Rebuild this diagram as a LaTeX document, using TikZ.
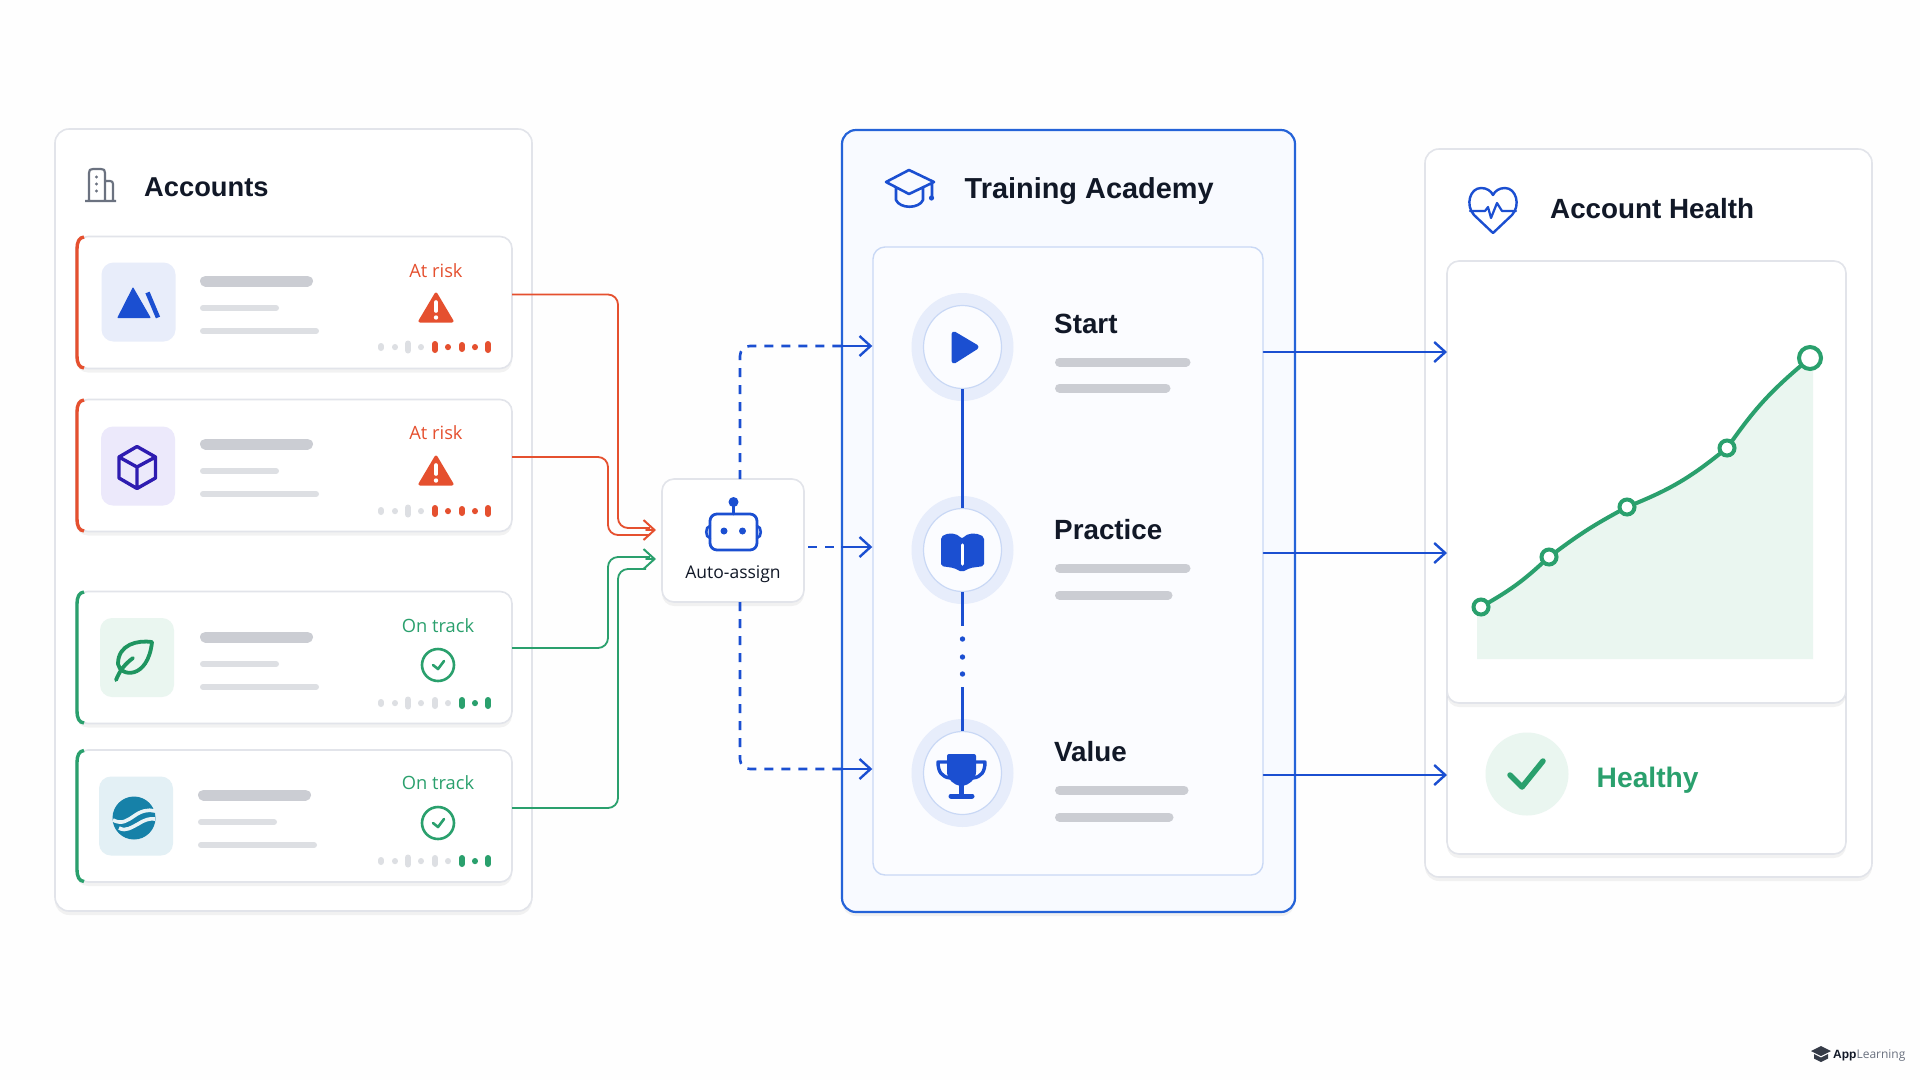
\documentclass[tikz,border=0pt]{standalone}
\usepackage{xcolor}
\usepackage{fontspec}
\usepackage{tikz}
\usetikzlibrary{arrows.meta,positioning,shapes.geometric,shadows}
\setmainfont{Open Sans}
\newfontfamily\headfont{Liberation Sans Bold}
\definecolor{hubInk}{HTML}{111827}
\definecolor{hubLine}{HTML}{E2E4EA}
\definecolor{hubBar}{HTML}{CBCDD3}
\definecolor{hubBarSoft}{HTML}{DDDFE3}
\definecolor{hubSlate}{HTML}{6B7280}
\definecolor{hubBlue}{HTML}{1B4FD1}
\definecolor{hubBorder}{HTML}{2563D8}
\definecolor{hubSky}{HTML}{F8FAFF}
\definecolor{hubPale}{HTML}{C9D8F5}
\definecolor{hubHalo}{HTML}{E7EDFB}
\definecolor{hubRed}{HTML}{E5502F}
\definecolor{hubGreen}{HTML}{2AA06D}
\definecolor{hubLeaf}{HTML}{1F9560}
\definecolor{hubMint}{HTML}{EAF6F0}
\definecolor{hubTeal}{HTML}{1681A8}
\definecolor{hubTealBg}{HTML}{E3F0F5}
\definecolor{hubCube}{HTML}{2E1CB0}
\definecolor{hubCubeBg}{HTML}{ECE9FB}
\tikzset{
  panelbox/.style={rectangle,draw=hubLine,fill=white,line width=1.6pt,rounded corners=14pt,inner sep=0pt,outer sep=0pt,
    drop shadow={shadow xshift=0pt,shadow yshift=-4pt,opacity=.05,fill=black}},
  cardbox/.style={panelbox,rounded corners=12pt,minimum width=436pt,minimum height=132pt},
  tilebox/.style={rectangle,rounded corners=12pt,inner sep=0pt,minimum width=74pt,minimum height=79pt},
  titletext/.style={anchor=base west,inner sep=0pt,text=hubInk},
  steptext/.style={anchor=base west,inner sep=0pt,text=hubInk,font=\fontsize{27.8}{34}\selectfont\headfont},
  statustext/.style={inner sep=0pt,font=\fontsize{18.3}{22}\selectfont},
  stephalo/.style={ellipse,fill=hubHalo,inner sep=0pt,minimum width=102pt,minimum height=108pt},
  stepring/.style={ellipse,draw=hubPale,fill=hubSky!60!white,line width=1.2pt,inner sep=0pt,minimum width=78pt,minimum height=83pt},
  chartdot/.style={circle,draw=hubGreen,fill=white,line width=4pt,inner sep=0pt,minimum size=15pt},
  barfat/.style={hubBar,line width=11pt,line cap=round},
  barthin/.style={hubBarSoft,line width=6pt,line cap=round},
  barstep/.style={hubBar,line width=9pt,line cap=round},
  sparkoff/.style={hubBarSoft,line width=6pt,line cap=round},
  sparkon/.style={line width=6pt,line cap=round},
  tiparrow/.style={-{Straight Barb[length=11pt,width=20pt]},line cap=round},
  riskline/.style={hubRed,line width=1.8pt,rounded corners=10pt},
  goodline/.style={hubGreen,line width=1.8pt,rounded corners=10pt},
  flowdash/.style={hubBlue,line width=2.6pt,rounded corners=10pt,dash pattern=on 9pt off 8pt},
  flowarrow/.style={hubBlue,line width=2.4pt,tiparrow},
  iconblue/.style={hubBlue,line width=2.6pt,line join=round,line cap=round},
  healthline/.style={hubGreen,line width=4pt,line cap=round},
  cardbars/.pic={
    \draw[barfat] (5.5,0) -- (107.5,0);
    \draw[barthin] (3,27) -- (76,27);
    \draw[barthin] (3,50) -- (116,50);
  },
  warnsign/.pic={
    \fill[hubRed,draw=hubRed,line width=3pt,line join=round] (0,2) -- (16,29) -- (-16,29) -- cycle;
    \draw[white,line width=3.6pt,line cap=round] (0,10) -- (0,19);
    \fill[white] (0,25.5) circle[radius=2.2];
  },
  checkbadge/.pic={
    \draw[hubGreen,line width=2.6pt] (0,0) circle[radius=16];
    \draw[hubGreen,line width=2.6pt,line cap=round,line join=round] (-5,0) -- (0,4) -- (6,-4);
  },
  riskspark/.pic={
    \draw[sparkoff] (0,-1) -- (0,1) (14,0) -- (14,.2) (27,-3.5) -- (27,3.5) (40,0) -- (40,.2);
    \draw[sparkon,hubRed] (54,-3) -- (54,3) (67,0) -- (67,.2) (81,-2) -- (81,2) (94,0) -- (94,.2) (107,-3) -- (107,3);
  },
  goodspark/.pic={
    \draw[sparkoff] (0,-1) -- (0,1) (14,0) -- (14,.2) (27,-3.5) -- (27,3.5) (40,0) -- (40,.2) (54,-3) -- (54,3) (67,0) -- (67,.2);
    \draw[sparkon,hubGreen] (81,-3) -- (81,3) (94,0) -- (94,.2) (107,-3) -- (107,3);
  }
}
\begin{document}
\begin{tikzpicture}[x=1pt,y=-1pt]
  \useasboundingbox (0,0) rectangle (1920,1080);
  \fill[white!99.5!black] (0,0) rectangle (1920,1080);

  \node[panelbox,minimum width=477pt,minimum height=782pt] (accounts) at (293.5,520) {};
  \draw[hubSlate,line width=2.2pt,line join=round] (85,201) -- (116,201) (89,201) -- (89,173) .. controls (89,170) and (90,169) .. (93,169) -- (101,169) .. controls (104,169) and (105,170) .. (105,173) -- (105,201) (105,181) -- (110,181) .. controls (112,181) and (113,182) .. (113,184) -- (113,201);
  \fill[hubSlate] (96.5,177) circle[radius=1.6] (96.5,184) circle[radius=1.6] (96.5,191) circle[radius=1.6];
  \node[titletext,font=\fontsize{27.3}{34}\selectfont\headfont] (accountstitle) at (144,196) {Accounts};

  \node[cardbox] (cardone) at (294,302.5) {};
  \node[cardbox, below=31pt of cardone] (cardtwo) {};
  \node[cardbox, below=60pt of cardtwo] (cardthree) {};
  \node[cardbox, below=26.5pt of cardthree] (cardfour) {};
  \draw[hubRed,line width=3.4pt] (84,237) .. controls (79,237.5) and (77,242) .. (77,249) -- (77,356) .. controls (77,363) and (79,367.5) .. (84,368);
  \draw[hubRed,line width=3.4pt] (84,400) .. controls (79,400.5) and (77,405) .. (77,412) -- (77,519) .. controls (77,526) and (79,530.5) .. (84,531);
  \draw[hubGreen,line width=3.4pt] (84,592) .. controls (79,592.5) and (77,597) .. (77,604) -- (77,711) .. controls (77,718) and (79,722.5) .. (84,723);
  \draw[hubGreen,line width=3.4pt] (84,750.5) .. controls (79,751) and (77,755.5) .. (77,762.5) -- (77,869.5) .. controls (77,876.5) and (79,881) .. (84,881.5);

  \node[tilebox,fill=hubBlue!10] (tileone) at (138.5,302) {};
  \fill[hubBlue,draw=hubBlue,line width=1pt,line join=round] (133,288) -- (150,317.5) -- (118,317.5) -- cycle;
  \draw[hubBlue,line width=4.5pt] (147.5,292.5) -- (158,317.5);
  \pic at (200,281) {cardbars};
  \node[statustext,text=hubRed] (statusone) at (436,271) {At risk};
  \pic at (436,292) {warnsign};
  \pic at (381,347) {riskspark};

  \node[tilebox,fill=hubCubeBg] (tiletwo) at (138,466) {};
  \draw[hubCube,line width=3.4pt,line join=round] (137,446.5) -- (155.5,457) -- (155.5,478) -- (137,488.5) -- (119,478) -- (119,457) -- cycle (119,457) -- (137,467) -- (155.5,457) (137,467) -- (137,488.5);
  \pic at (200,444) {cardbars};
  \node[statustext,text=hubRed] (statustwo) at (436,433) {At risk};
  \pic at (436,455) {warnsign};
  \pic at (381,511) {riskspark};

  \node[tilebox,fill=hubMint] (tilethree) at (137,657.5) {};
  \draw[hubLeaf,line width=3.8pt,line cap=round,line join=round] (152,642) .. controls (138,640) and (118,644) .. (118,664) .. controls (120,677) and (148,680) .. (152,642) (116,680) .. controls (120,670) and (125,664) .. (133,658);
  \pic at (200,637) {cardbars};
  \node[statustext,text=hubGreen] (statusthree) at (438,626) {On track};
  \pic at (438,665) {checkbadge};
  \pic at (381,703) {goodspark};

  \node[tilebox,fill=hubTealBg] (tilefour) at (136,816) {};
  \fill[hubTeal] (134,818) circle[radius=21.5];
  \draw[white!90!hubTeal,line width=3.6pt] (113,820) .. controls (122,825) and (128,820) .. (134,816) .. controls (141,811) and (148,809) .. (155,811);
  \draw[white!90!hubTeal,line width=3.6pt] (119,828) .. controls (126,832) and (132,827) .. (138,824) .. controls (144,820) and (150,818) .. (155,819);
  \pic at (198,795) {cardbars};
  \node[statustext,text=hubGreen] (statusfour) at (438,783) {On track};
  \pic at (438,823) {checkbadge};
  \pic at (381,861) {goodspark};

  \node[panelbox,minimum width=142pt,minimum height=123pt,rounded corners=12pt] (assign) at (733,540.5) {};
  \node[inner sep=0pt,text=hubInk,font=\fontsize{17.5}{22}\selectfont] (assignlabel) at (733,574) {Auto-assign};
  \draw[iconblue,line width=2.8pt,rounded corners=7pt] (710,514) rectangle (757,550);
  \draw[iconblue] (710,526) .. controls (705,526) and (705,538) .. (710,538) (757,526) .. controls (762,526) and (762,538) .. (757,538) (733.5,505) -- (733.5,514);
  \fill[hubBlue] (733.5,502) circle[radius=5] (724,531) circle[radius=3.5] (742.5,531) circle[radius=3.5];

  \node[panelbox,draw=hubBorder,fill=hubSky,line width=2.2pt,minimum width=453pt,minimum height=782pt] (academy) at (1068.5,521) {};
  \draw[iconblue] (909,170) -- (934,182) -- (909,194) -- (886,182) -- cycle (896,188) -- (896,200) .. controls (900,209) and (919,209) .. (923,200) -- (923,188) (932,183) -- (932,197);
  \fill[hubBlue] (931.5,198) circle[radius=2.6];
  \node[titletext,font=\fontsize{28.9}{36}\selectfont\headfont] (academytitle) at (964.5,198) {Training Academy};
  \node[rectangle,draw=hubPale,fill=hubSky!50!white,line width=1.4pt,rounded corners=12pt,inner sep=0pt,minimum width=390pt,minimum height=628pt] (learnpanel) at (1068,561) {};

  \node[stephalo] (halostart) at (962.5,347) {};
  \node[stepring] (stepstart) at (962.5,347) {};
  \fill[hubBlue,draw=hubBlue,line width=5pt,line join=round] (954,334) -- (976,347) -- (954,361) -- cycle;
  \node[steptext] (labelstart) at (1054,333) {Start};
  \draw[barstep] (1059.5,362) -- (1186,362);
  \draw[barstep] (1059.5,388) -- (1166,388);

  \node[stephalo] (halopractice) at (962.5,550) {};
  \node[stepring] (steppractice) at (962.5,550) {};
  \fill[hubBlue,rounded corners=2pt] (941,537) .. controls (948,532) and (957,533) .. (962,539) .. controls (967,533) and (976,532) .. (984,537) -- (984,566) -- (970,568) -- (962,572) -- (954,568) -- (941,566) -- cycle;
  \draw[white,line width=3.5pt,line cap=round] (962.5,545) -- (962.5,564);
  \node[steptext] (labelpractice) at (1054,539) {Practice};
  \draw[barstep] (1059.5,568) -- (1186,568);
  \draw[barstep] (1059.5,595) -- (1168,595);

  \node[stephalo] (halovalue) at (962.5,773) {};
  \node[stepring] (stepvalue) at (962.5,773) {};
  \fill[hubBlue,rounded corners=2pt] (947,754) -- (976,754) -- (976,770) .. controls (976,780) and (968,785) .. (961.5,786) .. controls (955,785) and (947,780) .. (947,770) -- cycle;
  \draw[iconblue,line width=3.4pt] (947,762) -- (938,762) .. controls (938,772) and (942,777) .. (950,778) (976,762) -- (985,762) .. controls (985,772) and (981,777) .. (973,778);
  \draw[hubBlue,line width=5pt] (961.5,784) -- (961.5,796);
  \draw[hubBlue,line width=5pt,line cap=round] (951,796) -- (972,796);
  \node[steptext] (labelvalue) at (1054,761) {Value};
  \draw[barstep] (1059.5,790) -- (1184,790);
  \draw[barstep] (1059.5,817) -- (1169,817);

  \draw[hubBlue,line width=3pt] (stepstart) -- (steppractice);
  \draw[hubBlue,line width=3pt] (steppractice) -- (962.5,626);
  \fill[hubBlue] (962.5,639) circle[radius=2.7] (962.5,657) circle[radius=2.7] (962.5,674) circle[radius=2.7];
  \draw[hubBlue,line width=3pt] (962.5,687) -- (stepvalue);

  \node[panelbox,minimum width=447pt,minimum height=728pt] (health) at (1648.5,513) {};
  \draw[iconblue,line width=2.4pt] (1493,233) -- (1474,215) .. controls (1465,205) and (1470,188) .. (1481,188) .. controls (1487,188) and (1491,191) .. (1493,195) .. controls (1495,191) and (1499,188) .. (1505,188) .. controls (1516,188) and (1521,205) .. (1512,215) -- cycle;
  \draw[iconblue,line width=2.2pt] (1470,211) -- (1485,211) -- (1488,207) -- (1491,218) -- (1497,203) -- (1502,211) -- (1516,211);
  \node[titletext,font=\fontsize{27.8}{34}\selectfont\headfont] (healthtitle) at (1550,218) {Account Health};
  \node[panelbox,rounded corners=12pt,minimum width=399pt,minimum height=180pt] (verdictcard) at (1646.5,764) {};
  \node[panelbox,rounded corners=12pt,minimum width=399pt,minimum height=442pt] (chartcard) at (1646.5,482) {};

  \coordinate (ptone) at (1481,607);
  \coordinate (pttwo) at (1549,557);
  \coordinate (ptthree) at (1627,507);
  \coordinate (ptfour) at (1727,448);
  \coordinate (ptfive) at (1810,358);
  \fill[hubMint] (1477,607) -- (ptone) to[bend right=6] (pttwo) to[bend left=4] (ptthree) to[bend right=8] (ptfour) to[bend left=7] (ptfive) -- (1813,362) -- (1813,659) -- (1477,659) -- cycle;
  \node[chartdot] (dotone) at (ptone) {};
  \node[chartdot] (dottwo) at (pttwo) {};
  \node[chartdot] (dotthree) at (ptthree) {};
  \node[chartdot] (dotfour) at (ptfour) {};
  \node[chartdot,minimum size=22pt] (dotfive) at (ptfive) {};
  \draw[healthline] (dotone) to[bend right=6] (dottwo);
  \draw[healthline] (dottwo) to[bend left=4] (dotthree);
  \draw[healthline] (dotthree) to[bend right=8] (dotfour);
  \draw[healthline] (dotfour) to[bend left=7] (dotfive);

  \node[circle,fill=hubMint,inner sep=0pt,minimum size=83pt] (healthybadge) at (1527,774) {};
  \draw[hubGreen,line width=5.5pt,line cap=round,line join=round] (1510,775) -- (1522,787) -- (1543,761);
  \node[inner sep=0pt,anchor=base west,text=hubGreen,font=\fontsize{28.2}{34}\selectfont\headfont] (healthytext) at (1596.5,787) {Healthy};

  \draw[riskline] ([yshift=8pt]cardone.east) -- (618,294.5) -- (618,528) -- (650,528);
  \draw[riskline] ([yshift=8.5pt]cardtwo.east) -- (608,457) -- (608,535) -- (650,535);
  \draw[hubRed,line width=2pt,tiparrow] ([xshift=-16pt,yshift=10.5pt]assign.west) -- ([xshift=-6pt,yshift=10.5pt]assign.west);
  \draw[goodline] ([yshift=9.5pt]cardthree.east) -- (608,648) -- (608,557) -- (650,557);
  \draw[goodline] ([yshift=8pt]cardfour.east) -- (618,808) -- (618,569) -- (646,569);
  \draw[hubGreen,line width=2pt,tiparrow] ([xshift=-16pt,yshift=-18.5pt]assign.west) -- ([xshift=-6pt,yshift=-18.5pt]assign.west);

  \draw[flowdash] ([xshift=7pt]assign.north) |- ([yshift=175pt]academy.west);
  \draw[flowarrow] ([yshift=175pt]academy.west) -- ([yshift=215pt]learnpanel.west);
  \draw[flowdash] ([xshift=4pt,yshift=-6.5pt]assign.east) -- ([yshift=-26pt]academy.west);
  \draw[flowarrow] ([yshift=-26pt]academy.west) -- ([yshift=14pt]learnpanel.west);
  \draw[flowdash] ([xshift=7pt]assign.south) |- ([yshift=-248pt]academy.west);
  \draw[flowarrow] ([yshift=-248pt]academy.west) -- ([yshift=-208pt]learnpanel.west);

  \draw[flowarrow] ([yshift=209pt]learnpanel.east) -- ([yshift=130pt]chartcard.west);
  \draw[flowarrow] ([yshift=8pt]learnpanel.east) -- ([yshift=-71pt]chartcard.west);
  \draw[flowarrow] ([yshift=-214pt]learnpanel.east) -- ([yshift=-11pt]verdictcard.west);

  \fill[hubInk!85] (1821,1046) -- (1831,1051) -- (1821,1056) -- (1811,1051) -- cycle;
  \fill[hubInk!85] (1814,1054) -- (1821,1057.5) -- (1828,1054) -- (1828,1058.5) -- (1821,1062) -- (1814,1058.5) -- cycle;
  \node[inner sep=0pt,anchor=base west,font=\fontsize{12}{15}\selectfont] (watermark) at (1833,1058.5) {{\headfont\color{hubInk}App}{\color{hubSlate}Learning}};
\end{tikzpicture}
\end{document}
